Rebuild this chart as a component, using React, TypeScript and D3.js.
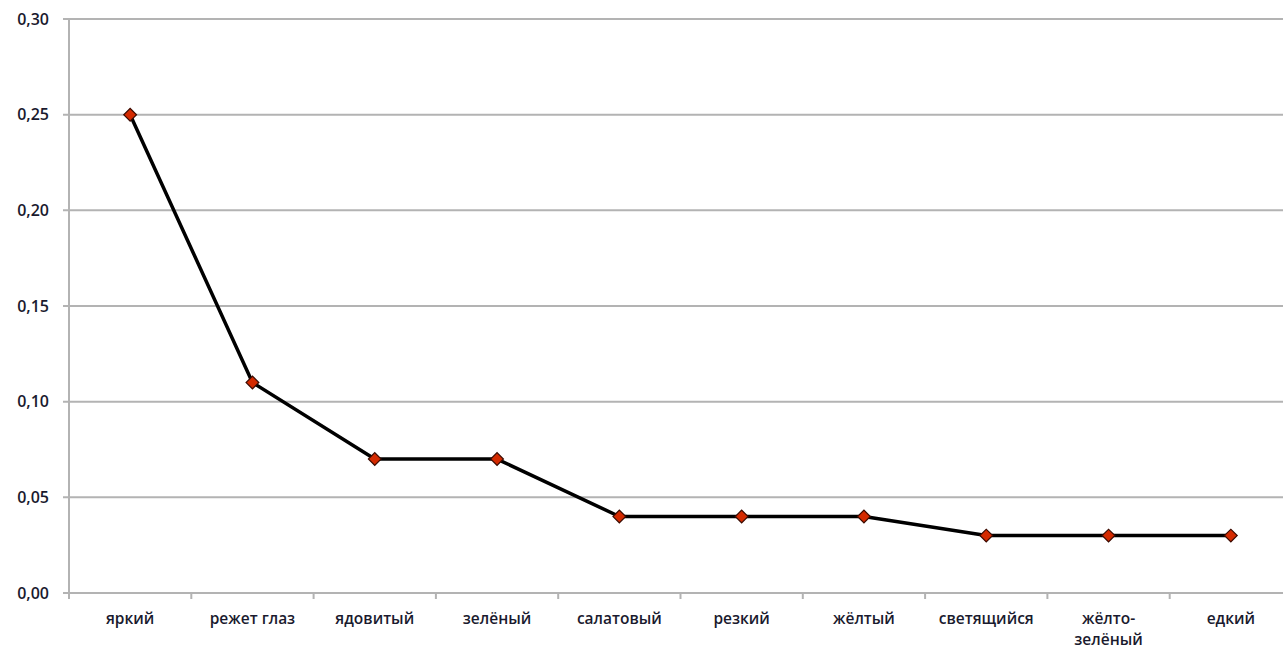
import React from "react";
import * as d3 from "d3";

const categories: string[][] = [
  ["яркий"],
  ["режет глаз"],
  ["ядовитый"],
  ["зелёный"],
  ["салатовый"],
  ["резкий"],
  ["жёлтый"],
  ["светящийся"],
  ["жёлто-", "зелёный"],
  ["едкий"],
];
const values: number[] = [0.25, 0.11, 0.07, 0.07, 0.04, 0.04, 0.04, 0.03, 0.03, 0.03];
const yTicks: number[] = [0, 0.05, 0.1, 0.15, 0.2, 0.25, 0.3];

const W = 1283;
const H = 651;
const left = 69;
const step = 122.3;
const top = 19;
const bottom = 593;
const font = "'Open Sans', 'DejaVu Sans', sans-serif";

export default function App() {
  const keys = categories.map((c) => c.join(" "));
  const x = d3.scaleBand<string>().domain(keys).range([left, left + step * keys.length]);
  const y = d3.scaleLinear().domain([0, 0.3]).range([bottom, top]);
  const cx = (i: number) => (x(keys[i]) as number) + x.bandwidth() / 2;
  const line = d3
    .line<number>()
    .x((_, i) => cx(i))
    .y((d) => y(d));
  const fmt = (v: number) => v.toFixed(2).replace(".", ",");

  return (
    <svg
      width={W}
      height={H}
      style={{ position: "absolute", left: 0, top: 0, background: "#fff" }}
    >
      {yTicks.map((t) => (
        <g key={t}>
          <line x1={63} x2={W} y1={y(t)} y2={y(t)} stroke="#b3b3b3" strokeWidth={2} />
          <text
            x={49}
            y={y(t)}
            dy="0.35em"
            textAnchor="end"
            fontFamily={font}
            fontSize={16}
            fontWeight={600}
            fill="#1a1a2e"
          >
            {fmt(t)}
          </text>
        </g>
      ))}
      <line x1={left} x2={left} y1={top} y2={bottom + 6} stroke="#b3b3b3" strokeWidth={2} />
      {keys.map((k) => (
        <line
          key={"tk" + k}
          x1={(x(k) as number) + step}
          x2={(x(k) as number) + step}
          y1={bottom}
          y2={bottom + 6}
          stroke="#b3b3b3"
          strokeWidth={2}
        />
      ))}
      {categories.map((c, i) => (
        <text
          key={"lb" + i}
          x={cx(i)}
          y={619}
          textAnchor="middle"
          fontFamily={font}
          fontSize={15.5}
          fontWeight={600}
          fill="#1a1a2e"
        >
          {c.map((s, j) => (
            <tspan key={j} x={cx(i)} dy={j === 0 ? "0.35em" : 21}>
              {s}
            </tspan>
          ))}
        </text>
      ))}
      <path d={line(values) || ""} fill="none" stroke="#000" strokeWidth={3.5} strokeLinejoin="round" />
      {values.map((v, i) => (
        <rect
          key={"m" + i}
          x={cx(i) - 4.5}
          y={y(v) - 4.5}
          width={9}
          height={9}
          transform={`rotate(45 ${cx(i)} ${y(v)})`}
          fill="#d42a00"
          stroke="#3a0a00"
          strokeWidth={1.2}
        />
      ))}
    </svg>
  );
}
